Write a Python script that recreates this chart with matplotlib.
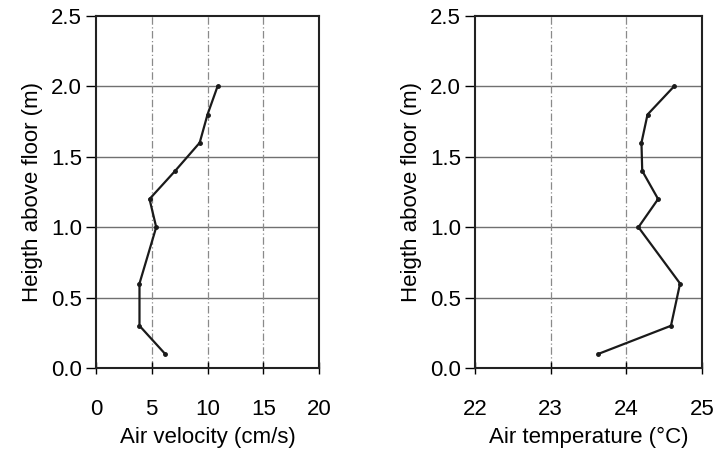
import matplotlib
matplotlib.use("Agg")
import matplotlib.pyplot as plt

HEIGHTS = [0.1, 0.3, 0.6, 1.0, 1.2, 1.4, 1.6, 1.8, 2.0]
VELOCITY = [6.2, 3.9, 3.9, 5.4, 4.8, 7.1, 9.3, 10.0, 10.9]
TEMPERATURE = [23.63, 24.59, 24.71, 24.16, 24.42, 24.21, 24.20, 24.28, 24.63]

plt.rcParams["font.family"] = ["Liberation Sans", "DejaVu Sans"]

fig = plt.figure(figsize=(7.22, 4.49), dpi=100)
ax_v = fig.add_axes([96 / 722, 81 / 449, 223 / 722, 352 / 449])
ax_t = fig.add_axes([475 / 722, 81 / 449, 227 / 722, 352 / 449])


def style_axes(ax, xlim, xticks, xlabel):
    ax.set_xlim(*xlim)
    ax.set_ylim(0, 2.5)
    ax.set_xticks(xticks)
    ax.set_yticks([0.0, 0.5, 1.0, 1.5, 2.0, 2.5])
    ax.set_yticklabels([f"{v:.1f}" for v in ax.get_yticks()])
    for v in [0.5, 1.0, 1.5, 2.0]:
        ax.axhline(v, color="#707070", linewidth=1.0, zorder=1)
    for v in xticks[1:-1]:
        ax.axvline(v, color="#8a8a8a", linewidth=0.9, linestyle=(0, (6, 2, 1, 2)), zorder=1)
    for spine in ax.spines.values():
        spine.set_linewidth(1.5)
        spine.set_color("#222222")
    ax.tick_params(axis="x", direction="inout", length=8, width=1.0, pad=18, labelsize=16)
    ax.tick_params(axis="y", direction="out", length=7, width=1.0, pad=3, labelsize=16)
    ax.set_xlabel(xlabel, fontsize=16, labelpad=5)
    ax.set_ylabel("Heigth above floor (m)", fontsize=16, labelpad=6)


ax_v.plot(VELOCITY, HEIGHTS, color="#1a1a1a", linewidth=1.6, marker="o", markersize=2.5, zorder=3)
style_axes(ax_v, (0, 20), [0, 5, 10, 15, 20], "Air velocity (cm/s)")

ax_t.plot(TEMPERATURE, HEIGHTS, color="#1a1a1a", linewidth=1.6, marker="o", markersize=2.5, zorder=3)
style_axes(ax_t, (22, 25), [22, 23, 24, 25], "Air temperature (°C)")

fig.savefig("out.png", dpi=100)
